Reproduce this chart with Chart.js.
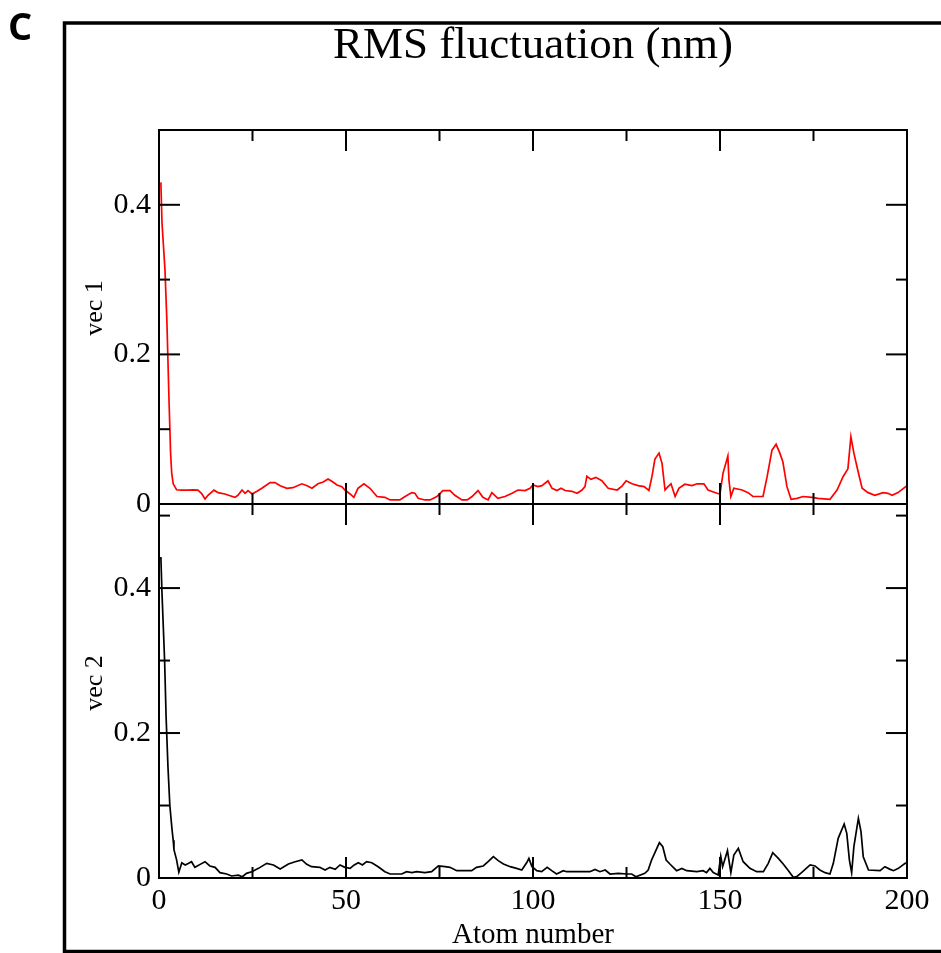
<!DOCTYPE html>
<html>
<head>
<meta charset="utf-8">
<script src="https://cdn.jsdelivr.net/npm/chart.js@4.4.1/dist/chart.umd.min.js"></script>
<style>
    body { margin: 0; background: #fff; }
    #wrap { position: relative; width: 941px; height: 953px; overflow: hidden; }
    #wrap canvas { position: absolute; left: 0; top: 0; }
</style>
</head>
<body>
<div id="wrap">
    <canvas id="chartTop" width="941" height="953"></canvas>
    <canvas id="chartBottom" width="941" height="953"></canvas>
</div>
<script>
// values (atom number, nm)
const atomsVec1 = [0.5, 0.8, 1.6, 2.1, 2.7, 3.1, 3.4, 3.8, 4.7, 5.9,
    7.8, 9.1, 10.4, 11.4, 12.3, 13.1, 14.7, 15.8, 17.6, 19.0,
    20.3, 21.1, 22.2, 23.0, 23.8, 24.9, 26.2, 27.5, 29.7, 31.0,
    32.4, 34.2, 35.8, 38.2, 39.6, 40.9, 42.5, 43.9, 45.2, 46.3,
    47.6, 48.9, 49.7, 51.1, 52.1, 53.2, 54.8, 56.4, 58.3, 60.4,
    61.8, 64.4, 65.8, 67.6, 68.4, 69.3, 71.1, 72.5, 74.3, 75.9,
    77.8, 79.1, 81.0, 82.4, 83.7, 85.3, 86.6, 88.0, 89.0, 90.6,
    92.5, 94.4, 96.0, 97.9, 99.2, 100.0, 101.3, 102.4, 104.0, 105.1,
    106.4, 107.5, 108.6, 110.4, 111.8, 113.1, 113.9, 114.4, 115.5, 116.8,
    118.4, 120.1, 122.5, 123.8, 124.9, 126.5, 128.1, 129.7, 131.0, 131.8,
    132.6, 133.7, 134.5, 135.3, 136.1, 136.9, 138.0, 139.0, 140.6, 142.5,
    143.9, 145.7, 146.8, 149.2, 150.0, 150.8, 152.1, 152.4, 152.9, 153.7,
    155.9, 157.5, 158.8, 161.5, 162.6, 163.9, 165.0, 166.0, 166.8, 167.9,
    169.0, 170.6, 172.2, 174.6, 176.2, 179.4, 181.3, 182.9, 184.2, 185.0,
    185.8, 186.9, 188.0, 189.6, 191.4, 193.6, 194.9, 196.0, 197.6, 200.0]
const vec1 = [0.430, 0.376, 0.313, 0.246, 0.135, 0.068, 0.041, 0.027, 0.019, 0.0185,
    0.0185, 0.019, 0.0185, 0.014, 0.0067, 0.0116, 0.0185, 0.0152, 0.0134, 0.0111,
    0.0089, 0.0116, 0.0187, 0.0143, 0.018, 0.0134, 0.017, 0.021, 0.0286, 0.0286,
    0.0245, 0.021, 0.0218, 0.027, 0.0245, 0.021, 0.027, 0.0294, 0.0335, 0.030,
    0.0254, 0.0232, 0.0187, 0.0134, 0.0089, 0.021, 0.027, 0.021, 0.010, 0.0089,
    0.0054, 0.0054, 0.010, 0.0152, 0.0145, 0.0076, 0.0054, 0.0054, 0.010, 0.018,
    0.018, 0.0116, 0.0054, 0.0054, 0.010, 0.018, 0.0089, 0.0054, 0.0152, 0.0076,
    0.010, 0.0143, 0.0187, 0.018, 0.021, 0.0254, 0.0232, 0.0245, 0.031, 0.021,
    0.018, 0.021, 0.018, 0.017, 0.0143, 0.0187, 0.0232, 0.037, 0.033, 0.0356,
    0.0312, 0.021, 0.0187, 0.024, 0.031, 0.027, 0.0245, 0.0232, 0.018, 0.0365,
    0.060, 0.068, 0.0544, 0.0187, 0.0232, 0.027, 0.010, 0.021, 0.0264, 0.0245,
    0.027, 0.027, 0.0187, 0.0143, 0.0134, 0.041, 0.064, 0.032, 0.010, 0.021,
    0.0187, 0.0152, 0.010, 0.010, 0.0365, 0.072, 0.0798, 0.068, 0.0566, 0.0232,
    0.0063, 0.0076, 0.010, 0.0089, 0.0076, 0.0063, 0.0187, 0.0365, 0.047, 0.090,
    0.068, 0.0437, 0.021, 0.0152, 0.0116, 0.0152, 0.0143, 0.0116, 0.0152, 0.0245]

const atomsVec2 = [0.5, 0.8, 1.5, 1.9, 2.4, 2.9, 3.5, 3.8, 4.0, 4.7,
    5.3, 6.1, 7.0, 7.8, 8.7, 9.6, 11.0, 12.3, 13.6, 15.0,
    16.3, 18.1, 19.4, 21.2, 22.3, 23.4, 24.8, 26.6, 28.8, 30.6,
    32.4, 34.6, 36.4, 38.2, 39.5, 40.8, 43.0, 44.4, 45.7, 47.1,
    48.4, 49.7, 51.1, 52.2, 53.3, 54.4, 55.5, 56.9, 58.6, 60.4,
    61.8, 64.9, 66.2, 67.6, 68.9, 71.1, 72.9, 74.7, 76.5, 77.8,
    79.6, 83.6, 84.9, 86.7, 88.0, 89.4, 90.7, 92.1, 93.9, 95.6,
    97.0, 98.3, 98.9, 99.7, 101.0, 102.3, 103.8, 105.0, 106.3, 108.1,
    109.0, 112.6, 115.2, 116.6, 117.9, 119.3, 120.6, 122.8, 125.1, 126.4,
    127.5, 129.9, 130.8, 131.7, 132.6, 133.8, 134.7, 135.6, 136.6, 138.4,
    139.8, 141.1, 143.8, 145.5, 146.4, 147.3, 148.2, 149.5, 150.2, 150.7,
    152.0, 152.9, 153.7, 154.9, 156.2, 158.0, 159.8, 161.6, 162.9, 164.1,
    165.6, 166.9, 168.3, 169.6, 170.5, 171.8, 174.1, 175.4, 176.7, 178.1,
    179.4, 180.3, 181.6, 183.2, 183.9, 184.6, 185.2, 185.8, 187.0, 187.7,
    188.3, 189.7, 192.8, 194.1, 195.5, 196.4, 197.7, 199.5, 200.0]
const vec2 = [0.443, 0.393, 0.300, 0.222, 0.153, 0.100, 0.066, 0.052, 0.039, 0.025,
    0.008, 0.021, 0.018, 0.020, 0.0225, 0.0147, 0.0188, 0.0225, 0.0166, 0.0147,
    0.0074, 0.0055, 0.0028, 0.004, 0.0018, 0.0064, 0.0087, 0.0133, 0.0202, 0.018,
    0.0124, 0.0193, 0.0225, 0.025, 0.0188, 0.0156, 0.0147, 0.011, 0.0147, 0.012,
    0.018, 0.0147, 0.0133, 0.018, 0.021, 0.018, 0.0225, 0.021, 0.0156, 0.0087,
    0.0055, 0.0055, 0.0087, 0.0074, 0.0087, 0.0074, 0.0087, 0.0166, 0.0156, 0.0147,
    0.0101, 0.0101, 0.0147, 0.0166, 0.0225, 0.0294, 0.024, 0.0193, 0.0156, 0.0133,
    0.011, 0.021, 0.027, 0.016, 0.0101, 0.0087, 0.0147, 0.0101, 0.0055, 0.0101,
    0.0087, 0.0087, 0.0087, 0.0119, 0.0087, 0.011, 0.0055, 0.0064, 0.0055, 0.0055,
    0.0018, 0.0064, 0.011, 0.0248, 0.0349, 0.0487, 0.0432, 0.0248, 0.0193, 0.0101,
    0.0133, 0.0101, 0.0087, 0.0101, 0.0074, 0.0133, 0.0074, 0.0041, 0.030, 0.0156,
    0.0377, 0.0074, 0.0317, 0.0409, 0.0225, 0.0133, 0.0087, 0.0087, 0.0202, 0.0349,
    0.027, 0.0193, 0.0101, 0.0009, 0.0018, 0.0074, 0.018, 0.0166, 0.011, 0.0074,
    0.0055, 0.0202, 0.0547, 0.0745, 0.0616, 0.0248, 0.0074, 0.0432, 0.0823, 0.064,
    0.0294, 0.011, 0.0101, 0.0156, 0.0119, 0.0101, 0.0133, 0.0202, 0.021]

const xMajorTicks = [0, 50, 100, 150, 200]
const xMinorTicks = [25, 75, 125, 175]
const yMajorTicks = [0, 0.2, 0.4]
const yMinorTop = [0.1, 0.3]
const yMinorBottom = [0.1, 0.3, 0.5]

const serif = '"Liberation Serif", "Times New Roman", serif'

// inward tick marks on all four sides, plus the rotated y title
const panelFrame = {
    id: 'panelFrame',
    afterDatasetsDraw(chart, args, opts) {
        const {ctx, chartArea: a} = chart
        const xs = chart.scales.x
        const ys = chart.scales.y
        ctx.save()
        ctx.strokeStyle = '#000'
        ctx.lineWidth = 2
        ctx.strokeRect(a.left, a.top, a.right - a.left, a.bottom - a.top)
        const mark = (x1, y1, x2, y2) => {
            ctx.beginPath()
            ctx.moveTo(x1, y1)
            ctx.lineTo(x2, y2)
            ctx.stroke()
        }
        [[xMajorTicks, 21], [xMinorTicks, 11]].forEach(([vals, len]) => {
            vals.forEach(v => {
                const px = xs.getPixelForValue(v)
                mark(px, a.bottom, px, a.bottom - len)
                mark(px, a.top, px, a.top + len)
            })
        });
        [[yMajorTicks, 21], [opts.yMinor, 11]].forEach(([vals, len]) => {
            vals.forEach(v => {
                const py = ys.getPixelForValue(v)
                mark(a.left, py, a.left + len, py)
                mark(a.right, py, a.right - len, py)
            })
        })
        ctx.fillStyle = '#000'
        ctx.font = '26px ' + serif
        ctx.textAlign = 'center'
        ctx.textBaseline = 'middle'
        ctx.translate(95, opts.titleY)
        ctx.rotate(-Math.PI / 2)
        ctx.fillText(opts.yTitle, 0, 0)
        ctx.restore()
    }
}

// outer panel box, panel letter and main title
const figureDecor = {
    id: 'figureDecor',
    afterDraw(chart) {
        const {ctx, chartArea: a} = chart
        ctx.save()
        ctx.strokeStyle = '#000'
        ctx.lineWidth = 3.5
        ctx.strokeRect(64.5, 23, 1000, 928.5)
        ctx.fillStyle = '#000'
        ctx.textBaseline = 'alphabetic'
        ctx.textAlign = 'left'
        ctx.font = 'bold 38px "Open Sans", sans-serif'
        ctx.fillText('C', 8, 40)
        ctx.textAlign = 'center'
        ctx.font = '45px ' + serif
        ctx.fillText('RMS fluctuation (nm)', (a.left + a.right) / 2, 58)
        ctx.restore()
    }
}

const makePanel = (canvasId, atoms, values, color, yMax, top, opts) => {
    return new Chart(document.getElementById(canvasId), {
        type: 'line',
        data: {
            datasets: [{
                data: atoms.map((a, i) => ({x: a, y: values[i]})),
                borderColor: color,
                borderWidth: 1.7,
                pointRadius: 0,
                tension: 0,
                fill: false,
            }]
        },
        options: {
            responsive: false,
            animation: false,
            events: [],
            layout: {padding: {left: 80, top: top, right: 34, bottom: 0}},
            plugins: {
                legend: {display: false},
                tooltip: {enabled: false},
                panelFrame: opts,
            },
            scales: {
                x: {
                    type: 'linear',
                    min: 0,
                    max: 200,
                    grid: {display: false, drawTicks: false},
                    border: {display: false},
                    afterBuildTicks: s => { s.ticks = xMajorTicks.map(v => ({value: v})) },
                    afterFit: s => { s.height = opts.xHeight },
                    ticks: {
                        display: opts.showX,
                        color: '#000',
                        padding: 5,
                        maxRotation: 0,
                        font: {family: serif, size: 30},
                        callback: v => String(v),
                    },
                    title: {
                        display: opts.showX,
                        text: 'Atom number',
                        color: '#000',
                        font: {family: serif, size: 29},
                        padding: {top: 0, bottom: 0},
                    },
                },
                y: {
                    min: 0,
                    max: yMax,
                    grid: {display: false, drawTicks: false},
                    border: {display: false},
                    afterBuildTicks: s => { s.ticks = yMajorTicks.map(v => ({value: v})) },
                    afterFit: s => { s.width = 79 },
                    ticks: {
                        color: '#000',
                        padding: 8,
                        font: {family: serif, size: 30},
                        callback: v => v === 0 ? '0' : v.toFixed(1),
                    },
                },
            },
        },
        plugins: [panelFrame].concat(opts.extra || []),
    })
}

makePanel('chartTop', atomsVec1, vec1, '#ff0000', 0.5, 130, {
    yMinor: yMinorTop, yTitle: 'vec 1', titleY: 308,
    showX: false, xHeight: 449, extra: [figureDecor],
})
makePanel('chartBottom', atomsVec2, vec2, '#000000', 0.516, 504, {
    yMinor: yMinorBottom, yTitle: 'vec 2', titleY: 683,
    showX: true, xHeight: 75,
})
</script>
</body>
</html>
